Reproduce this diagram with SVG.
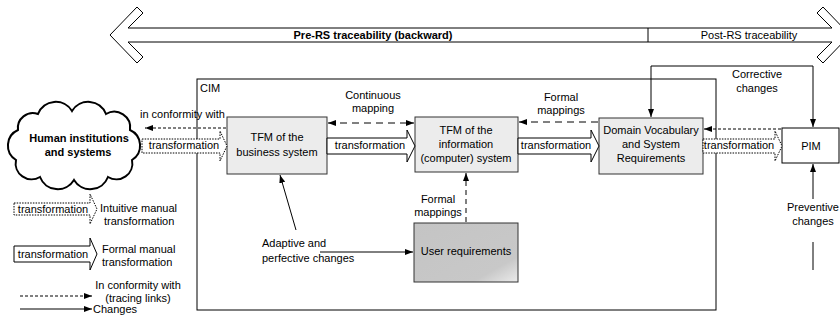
<svg xmlns="http://www.w3.org/2000/svg" width="840" height="323" viewBox="0 0 840 323">
<defs>
<style>
text{font-family:"Liberation Sans",Arial,sans-serif;font-size:11px;fill:#000}
.b{font-weight:bold}
.c{text-anchor:middle}
.box{fill:#ececec;stroke:#333;stroke-width:1}
.wbox{fill:#fff;stroke:#000;stroke-width:1}
.line{fill:none;stroke:#000;stroke-width:1}
.dash{fill:none;stroke:#000;stroke-width:1;stroke-dasharray:7,5}
.fine{fill:none;stroke:#000;stroke-width:1;stroke-dasharray:3,2}
.solidArrow{fill:#fff;stroke:#000;stroke-width:1}
.dotArrow{fill:#fff;stroke:#000;stroke-width:1;stroke-dasharray:1.5,1.2}
</style>
<marker id="ah" viewBox="0 0 8 8" refX="8" refY="4" markerWidth="8" markerHeight="8" markerUnits="userSpaceOnUse" orient="auto-start-reverse">
<path d="M0,1 L8,4 L0,7 z" fill="#000"/>
</marker>
<linearGradient id="ug" x1="0" y1="0" x2="1" y2="1">
<stop offset="0" stop-color="#c4c4c4"/>
<stop offset="0.78" stop-color="#c8c8c8"/>
<stop offset="1" stop-color="#ebebeb"/>
</linearGradient>
</defs>
<rect width="840" height="323" fill="#fff"/>

<g id="traceability-arrow">
<path d="M110,35 L137,7 L143,13 L128,28 L832,28 L817,13 L823,7 L850,35 L823,63 L817,57 L832,42 L128,42 L143,57 L137,63 Z" class="wbox"/>
<line x1="648" y1="28" x2="648" y2="42" class="line"/>
<text x="373" y="39" class="b c">Pre-RS traceability (backward)</text>
<text x="749" y="39" class="c">Post-RS traceability</text>
</g>

<g id="cim">
<rect x="197" y="79" width="519" height="231" fill="none" stroke="#000" stroke-width="1"/>
<text x="200" y="92">CIM</text>
</g>

<g id="human-institutions">
<path d="M18,130 A15,15 0 0 1 38,114 A19,19 0 0 1 72,111 A19,19 0 0 1 106,114 A16,16 0 0 1 130,130 A17,17 0 0 1 132,160 A16,16 0 0 1 108,177 A19,19 0 0 1 74,180 A19,19 0 0 1 40,177 A16,16 0 0 1 16,160 A17,17 0 0 1 18,130 Z" fill="#fff" stroke="#000" stroke-width="2"/>
<text x="79" y="142" class="b c">Human institutions</text>
<text x="78" y="156" class="b c">and systems</text>
</g>

<g id="tfm-business">
<rect x="227" y="117" width="100" height="57" class="box"/>
<text x="277" y="141" class="c">TFM of the</text>
<text x="277" y="156" class="c">business system</text>
</g>

<g id="tfm-information">
<rect x="415" y="117" width="103" height="55" class="box"/>
<text x="466" y="134" class="c">TFM of the</text>
<text x="466" y="148" class="c">information</text>
<text x="466" y="162" class="c">(computer) system</text>
</g>

<g id="domain-vocabulary">
<rect x="599" y="118" width="104" height="56" class="box"/>
<text x="651" y="134" class="c">Domain Vocabulary</text>
<text x="651" y="148" class="c">and System</text>
<text x="651" y="162" class="c">Requirements</text>
</g>

<g id="user-requirements">
<rect x="414" y="223" width="104" height="59" fill="url(#ug)" stroke="#333" stroke-width="1"/>
<text x="466" y="255" class="c">User requirements</text>
</g>

<g id="pim">
<rect x="782" y="128" width="57" height="35" class="wbox"/>
<text x="811" y="150" class="c">PIM</text>
</g>

<g id="connectors">
<!-- block transformation arrows -->
<path d="M142,139 H220 V131 L227,146 L220,161 V153 H142 Z" class="dotArrow"/>
<text x="184" y="149" class="c">transformation</text>
<path d="M327,138 H407 V130 L415,146 L407,162 V154 H327 Z" class="solidArrow"/>
<text x="370" y="149" class="c">transformation</text>
<path d="M518,138 H591 V130 L599,146 L591,162 V154 H518 Z" class="solidArrow"/>
<text x="556" y="149" class="c">transformation</text>
<path d="M703,139 H775 V131 L782,146 L775,161 V153 H703 Z" class="dotArrow"/>
<text x="739" y="149" class="c">transformation</text>

<!-- in conformity with -->
<path d="M226,128 H145" class="fine" marker-end="url(#ah)"/>
<text x="140" y="118">in conformity with</text>
<path d="M781,129 H704" class="fine" marker-end="url(#ah)"/>

<!-- continuous mapping -->
<path d="M328,123 H414" class="dash" marker-start="url(#ah)" marker-end="url(#ah)"/>
<text x="373" y="99" class="c">Continuous</text>
<text x="373" y="112" class="c">mapping</text>

<!-- formal mappings -->
<path d="M598,122 H519" class="dash" marker-end="url(#ah)"/>
<text x="561" y="101" class="c">Formal</text>
<text x="561" y="114" class="c">mappings</text>
<path d="M466,222 V173" fill="none" stroke="#000" stroke-width="1" stroke-dasharray="5,4" marker-end="url(#ah)"/>
<text x="438" y="203" class="c">Formal</text>
<text x="438" y="216" class="c">mappings</text>

<!-- corrective changes -->
<path d="M651,117 V66 H813 V127" class="line" marker-start="url(#ah)" marker-end="url(#ah)"/>
<text x="757" y="78" class="c">Corrective</text>
<text x="757" y="92" class="c">changes</text>

<!-- preventive changes -->
<path d="M813,270 V242 M813,199 V164" class="line" marker-end="url(#ah)"/>
<text x="813" y="211" class="c">Preventive</text>
<text x="813" y="225" class="c">changes</text>

<!-- adaptive and perfective changes -->
<path d="M296,230 L280,175" class="line" marker-end="url(#ah)"/>
<path d="M320,252 H413" class="line" marker-end="url(#ah)"/>
<text x="262" y="247">Adaptive and</text>
<text x="262" y="262">perfective changes</text>
</g>

<g id="legend">
<path d="M14,203 H90 V194 L97,209 L90,224 V215 H14 Z" class="dotArrow"/>
<text x="53" y="213" class="c">transformation</text>
<text x="100" y="212">Intuitive manual</text>
<text x="104" y="225">transformation</text>
<path d="M14,246 H90 V238 L97,254 L90,270 V262 H14 Z" class="solidArrow"/>
<text x="53" y="258" class="c">transformation</text>
<text x="102" y="253">Formal manual</text>
<text x="102" y="266">transformation</text>
<path d="M20,296 H92" class="fine" marker-end="url(#ah)"/>
<text x="138" y="289" class="c">In conformity with</text>
<text x="138" y="302" class="c">(tracing links)</text>
<path d="M20,309 H92" class="line" marker-end="url(#ah)"/>
<text x="93" y="313">Changes</text>
</g>
</svg>
